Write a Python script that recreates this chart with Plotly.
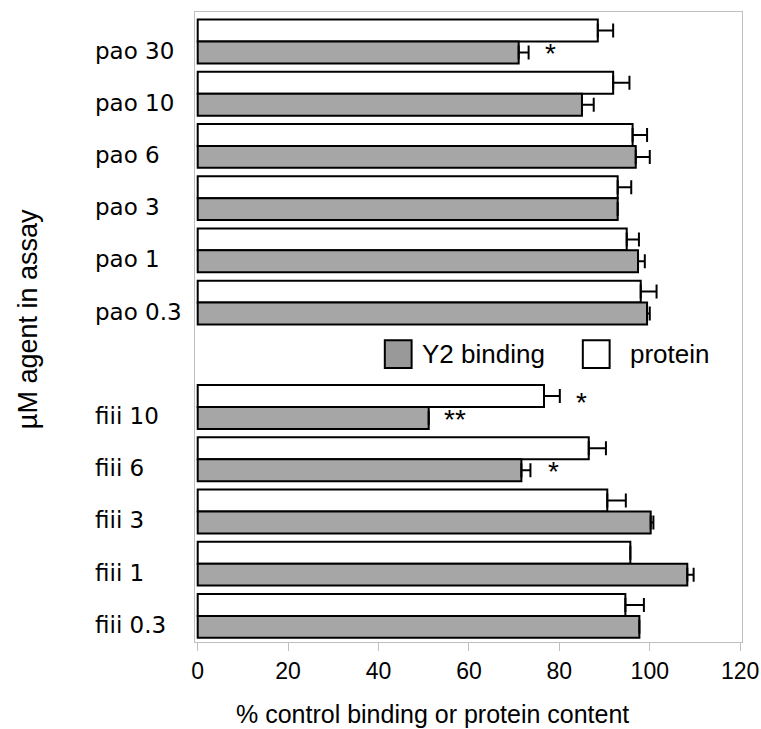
import plotly.graph_objects as go

# ---- data ----
categories = ["pao 30", "pao 10", "pao 6", "pao 3", "pao 1", "pao 0.3", " ",
              "fiii 10", "fiii 6", "fiii 3", "fiii 1", "fiii 0.3"]
protein = [88.5, 91.9, 96.2, 92.9, 94.9, 98.0, None, 76.6, 86.5, 90.6, 95.7, 94.6]
protein_err = [3.4, 3.6, 3.2, 3.0, 2.7, 3.5, None, 3.5, 3.8, 4.1, 0, 4.1]
y2_binding = [71.0, 85.0, 96.9, 92.9, 97.4, 99.4, None, 51.1, 71.6, 100.2, 108.3, 97.7]
y2_err = [2.2, 2.6, 3.1, 0, 1.5, 0.6, None, 0, 2.0, 0.6, 1.4, 0]

# significance markers
star_cats = ["pao 30", "fiii 10", "fiii 10", "fiii 6"]
star_series = ["y2", "protein", "y2", "y2"]
star_x = [78.0, 85.0, 57.0, 78.8]
star_text = ["*", "*", "**", "*"]

x_ticks = [0, 20, 40, 60, 80, 100, 120]

GRAY = "#a6a6a6"
FONT = "Liberation Sans, Arial, sans-serif"

fig = go.Figure()
fig.add_trace(go.Bar(
    y=categories, x=protein, orientation="h", name="protein",
    marker=dict(color="white", line=dict(color="black", width=2)),
    error_x=dict(type="data", array=protein_err, arrayminus=[0] * len(protein),
                 symmetric=False, color="black", thickness=2, width=7),
    showlegend=False,
))
fig.add_trace(go.Bar(
    y=categories, x=y2_binding, orientation="h", name="Y2 binding",
    marker=dict(color=GRAY, line=dict(color="black", width=2)),
    error_x=dict(type="data", array=y2_err, arrayminus=[0] * len(y2_binding),
                 symmetric=False, color="black", thickness=2, width=7),
    showlegend=False,
))

annotations = []
# category labels (left aligned)
for c in categories:
    if c.strip():
        annotations.append(dict(
            x=-0.1865, xref="paper", y=c, yref="y", text=c, showarrow=False,
            xanchor="left", yanchor="middle", yshift=-9,
            font=dict(family="DejaVu Sans", size=23, color="black")))
# stars
for c, s, xv, t in zip(star_cats, star_series, star_x, star_text):
    annotations.append(dict(
        x=xv, y=c, xref="x", yref="y", text=t, showarrow=False,
        xanchor="center", yanchor="middle",
        yshift=(5 if s == "protein" else -12),
        font=dict(family=FONT, size=28, color="black")))

# legend (boxes and text in the gap row)
leg_items = [("Y2 binding", "#999999", 0.347, 0.411), ("protein", "white", 0.709, 0.792)]
shapes = []
for name, col, x0, tx in leg_items:
    shapes.append(dict(type="rect", xref="paper", yref="paper",
                       x0=x0, x1=x0 + 0.049, y0=0.435, y1=0.479,
                       fillcolor=col, line=dict(color="black", width=2)))
    annotations.append(dict(x=tx, y=0.457, xref="paper", yref="paper", text=name,
                            showarrow=False, xanchor="left", yanchor="middle",
                            font=dict(family=FONT, size=26, color="black")))

# axis titles
annotations.append(dict(x=0.435, y=-0.1375, xref="paper", yref="paper",
                        text="% control binding or protein content", showarrow=False,
                        xanchor="center", yanchor="bottom", borderpad=0,
                        font=dict(family=FONT, size=25, color="black")))
annotations.append(dict(x=-0.305, y=0.5127, xref="paper", yref="paper",
                        text="µM agent in assay", showarrow=False, textangle=-90,
                        xanchor="center", yanchor="middle",
                        font=dict(family=FONT, size=27, color="black")))

fig.update_layout(
    width=761, height=729,
    margin=dict(l=195, r=19, t=12, b=87, autoexpand=False),
    paper_bgcolor="white", plot_bgcolor="white",
    barmode="group", bargap=0.16, bargroupgap=0,
    annotations=annotations, shapes=shapes,
    xaxis=dict(range=[-0.6, 120.4], tickvals=x_ticks, showgrid=False, zeroline=False,
               showline=True, linecolor="#bfbfbf", linewidth=1, mirror=True,
               ticks="outside", ticklen=8, tickcolor="#bfbfbf",
               ticklabeloverflow="allow", automargin=False,
               tickfont=dict(family=FONT, size=23, color="black")),
    yaxis=dict(autorange="reversed", categoryorder="array", categoryarray=categories,
               showticklabels=False, ticks="", showgrid=False, zeroline=False,
               automargin=False,
               showline=True, linecolor="#bfbfbf", linewidth=1, mirror=True),
    showlegend=False,
)

fig.write_html("out.html", config={"displayModeBar": False},
               post_script="document.body.style.margin='0';document.body.style.overflow='hidden';")
